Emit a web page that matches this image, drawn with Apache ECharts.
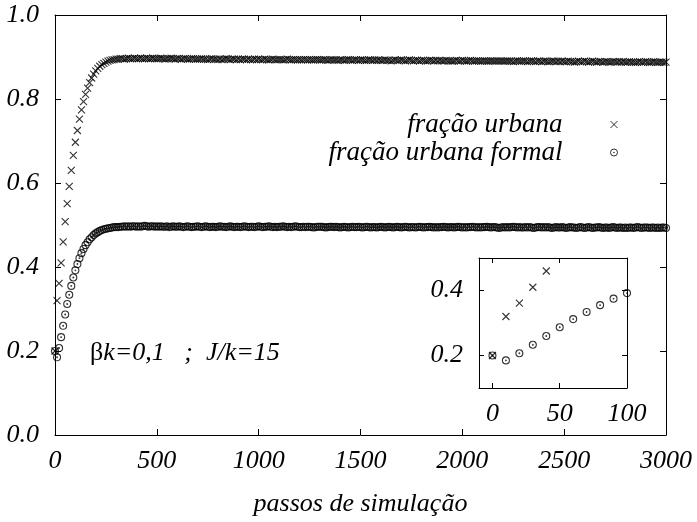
<!DOCTYPE html>
<html>
<head>
<meta charset="utf-8">
<script src="https://cdn.jsdelivr.net/npm/echarts@6/dist/echarts.min.js"></script>
<style>
  html, body { margin: 0; padding: 0; background: #fff; }
  #chart { width: 697px; height: 522px; }
</style>
</head>
<body>
<div id="chart"></div>
<script>
// Simulation output, sampled every 10 steps from step 0 to 3000.
const STEP = 10;

// Urban fraction: initial rise (steps 0..300)
const urbanRise = [
  0.200, 0.320, 0.361, 0.410, 0.460, 0.508, 0.551, 0.592, 0.630, 0.666,
  0.697, 0.725, 0.752, 0.774, 0.794, 0.811, 0.826, 0.839, 0.850, 0.859,
  0.867, 0.873, 0.878, 0.882, 0.885, 0.888, 0.890, 0.892, 0.893, 0.894,
  0.895
];
// Urban fraction: plateau (steps 310..3000)
const urbanPlateau = [
  0.895,0.896,0.896,0.895,0.896,0.897,0.896,0.896,0.897,0.896,
  0.896,0.897,0.896,0.896,0.897,0.896,0.896,0.897,0.896,0.896,
  0.896,0.897,0.896,0.895,0.896,0.896,0.897,0.896,0.895,0.896,
  0.896,0.895,0.896,0.896,0.895,0.895,0.896,0.896,0.895,0.895,
  0.895,0.896,0.895,0.895,0.894,0.895,0.896,0.895,0.895,0.894,
  0.895,0.894,0.895,0.896,0.895,0.894,0.895,0.895,0.894,0.895,
  0.894,0.895,0.895,0.894,0.895,0.894,0.894,0.895,0.894,0.895,
  0.894,0.894,0.895,0.894,0.893,0.894,0.895,0.894,0.894,0.894,
  0.894,0.893,0.894,0.895,0.894,0.893,0.894,0.894,0.893,0.894,
  0.893,0.894,0.894,0.893,0.894,0.893,0.893,0.894,0.894,0.893,
  0.893,0.894,0.893,0.892,0.893,0.894,0.893,0.893,0.892,0.893,
  0.893,0.892,0.893,0.894,0.893,0.892,0.893,0.893,0.892,0.893,
  0.893,0.892,0.892,0.893,0.893,0.892,0.893,0.892,0.893,0.892,
  0.892,0.893,0.892,0.892,0.891,0.892,0.893,0.892,0.892,0.893,
  0.892,0.891,0.892,0.893,0.892,0.891,0.892,0.892,0.891,0.892,
  0.892,0.891,0.891,0.892,0.892,0.891,0.892,0.891,0.892,0.891,
  0.891,0.892,0.891,0.891,0.890,0.891,0.892,0.891,0.891,0.892,
  0.891,0.890,0.891,0.892,0.891,0.890,0.891,0.891,0.890,0.891,
  0.891,0.890,0.890,0.891,0.891,0.890,0.891,0.890,0.891,0.890,
  0.890,0.891,0.890,0.890,0.889,0.890,0.891,0.890,0.890,0.891,
  0.890,0.889,0.890,0.891,0.890,0.889,0.890,0.890,0.889,0.890,
  0.890,0.889,0.889,0.890,0.890,0.889,0.890,0.889,0.890,0.889,
  0.889,0.890,0.889,0.889,0.888,0.889,0.890,0.889,0.889,0.890,
  0.889,0.888,0.889,0.890,0.889,0.888,0.889,0.889,0.888,0.889,
  0.889,0.888,0.888,0.889,0.889,0.888,0.889,0.888,0.889,0.888,
  0.888,0.889,0.888,0.888,0.887,0.888,0.889,0.888,0.888,0.889,
  0.888,0.887,0.888,0.889,0.888,0.887,0.888,0.888,0.887,0.888
];

// Formal urban fraction: initial rise (steps 0..300)
const formalRise = [
  0.200, 0.185, 0.207, 0.233, 0.260, 0.287, 0.312, 0.334, 0.355, 0.375,
  0.392, 0.407, 0.421, 0.433, 0.443, 0.452, 0.459, 0.466, 0.471, 0.476,
  0.480, 0.483, 0.486, 0.488, 0.490, 0.491, 0.492, 0.493, 0.494, 0.495,
  0.495
];
// Formal urban fraction: plateau (steps 310..3000)
const formalPlateau = [
  0.495,0.496,0.496,0.497,0.496,0.497,0.496,0.497,0.497,0.496,
  0.497,0.496,0.497,0.498,0.497,0.496,0.497,0.497,0.496,0.497,
  0.496,0.497,0.496,0.496,0.497,0.495,0.496,0.497,0.496,0.496,
  0.497,0.496,0.495,0.496,0.497,0.496,0.495,0.496,0.496,0.497,
  0.496,0.495,0.496,0.497,0.496,0.495,0.496,0.496,0.495,0.496,
  0.497,0.496,0.496,0.495,0.496,0.497,0.496,0.495,0.496,0.496,
  0.495,0.496,0.497,0.496,0.495,0.496,0.496,0.495,0.496,0.497,
  0.496,0.495,0.496,0.496,0.497,0.496,0.495,0.496,0.495,0.496,
  0.496,0.497,0.496,0.495,0.496,0.495,0.496,0.497,0.496,0.495,
  0.495,0.496,0.495,0.496,0.496,0.495,0.494,0.495,0.496,0.496,
  0.496,0.495,0.494,0.495,0.496,0.496,0.495,0.496,0.495,0.494,
  0.495,0.496,0.495,0.494,0.495,0.496,0.495,0.495,0.496,0.495,
  0.494,0.495,0.496,0.495,0.494,0.495,0.495,0.494,0.495,0.496,
  0.495,0.494,0.495,0.496,0.495,0.494,0.495,0.496,0.495,0.494,
  0.495,0.496,0.495,0.494,0.495,0.495,0.494,0.495,0.496,0.495,
  0.494,0.495,0.495,0.496,0.495,0.494,0.495,0.494,0.495,0.495,
  0.496,0.495,0.494,0.495,0.495,0.494,0.495,0.496,0.495,0.494,
  0.495,0.494,0.495,0.495,0.496,0.495,0.494,0.495,0.494,0.495,
  0.495,0.496,0.495,0.494,0.495,0.495,0.494,0.493,0.494,0.495,
  0.494,0.495,0.494,0.495,0.496,0.495,0.494,0.495,0.494,0.494,
  0.495,0.494,0.495,0.494,0.493,0.494,0.495,0.495,0.494,0.495,
  0.494,0.495,0.494,0.493,0.494,0.495,0.494,0.494,0.495,0.494,
  0.493,0.494,0.495,0.494,0.494,0.493,0.494,0.495,0.494,0.493,
  0.494,0.495,0.494,0.493,0.494,0.494,0.495,0.494,0.493,0.494,
  0.494,0.493,0.494,0.495,0.494,0.493,0.494,0.494,0.493,0.494,
  0.493,0.494,0.494,0.493,0.494,0.495,0.494,0.493,0.494,0.494,
  0.494,0.493,0.494,0.494,0.493,0.494,0.493,0.494,0.494,0.493
];

const seriesNames = ['fração urbana', 'fração urbana formal'];
const xTicksMain = [0, 3000, 500];      // min, max, interval
const yTicksMain = [0, 1, 0.2];
const xTicksInset = [0, 50, 100];
const yTicksInset = [0.2, 0.4];
const insetLastStep = 100;

const urban = urbanRise.concat(urbanPlateau);
const formal = formalRise.concat(formalPlateau);
const toPoints = arr => arr.map((v, i) => [i * STEP, v]);
const urbanPts = toPoints(urban);
const formalPts = toPoints(formal);
const urbanInset = urbanPts.filter(p => p[0] <= insetLastStep);
const formalInset = formalPts.filter(p => p[0] <= insetLastStep);

const FONT = '"Liberation Serif", "Times New Roman", serif';
const CROSS = 'path://M0,0L8,8M8,0L0,8';
const DOTCIRCLE = 'path://M8,4A4,4,0,1,1,0,4A4,4,0,1,1,8,4ZM4.45,4A0.45,0.45,0,1,1,3.55,4A0.45,0.45,0,1,1,4.45,4Z';

const markStyle = { color: 'none', borderColor: '#000', borderWidth: 1.1 };
const labelStyle = { fontFamily: FONT, fontStyle: 'italic', fontSize: 26, color: '#000' };
const legendText = { fontFamily: FONT, fontStyle: 'italic', fontSize: 27, color: '#000' };
const lineStyle = { color: '#000', width: 1 };
const plain = v => String(v);

function frameAxis(gridIndex, pos, extra) {
  return Object.assign({
    gridIndex, position: pos, type: 'value',
    axisLine: { show: true, onZero: false, lineStyle },
    splitLine: { show: false },
    axisLabel: { show: false },
    axisTick: { show: true, inside: true, length: 6, lineStyle }
  }, extra);
}

function legendFor(name, top) {
  return {
    data: [name], orient: 'vertical', align: 'right',
    right: 77, top, padding: 0, itemWidth: 7, itemHeight: 7,
    selectedMode: false,
    itemStyle: { color: 'none', borderColor: '#000', borderWidth: 1 },
    textStyle: Object.assign({ padding: [0, 43, 0, 0] }, legendText)
  };
}

const chart = echarts.init(document.getElementById('chart'), null, { renderer: 'canvas' });

chart.setOption({
  animation: false,
  backgroundColor: '#fff',
  grid: [
    { left: 55, top: 15, width: 611, height: 422 },
    { left: 479, top: 258, width: 148, height: 130, show: true, backgroundColor: '#fff', borderWidth: 0, z: 5 }
  ],
  xAxis: [
    frameAxis(0, 'bottom', {
      min: xTicksMain[0], max: xTicksMain[1], interval: xTicksMain[2],
      axisLabel: Object.assign({ show: true, margin: 13, formatter: plain }, labelStyle),
      name: 'passos de simulação', nameLocation: 'middle', nameGap: 56,
      nameTextStyle: labelStyle
    }),
    frameAxis(0, 'top', { min: xTicksMain[0], max: xTicksMain[1], interval: xTicksMain[2] }),
    frameAxis(1, 'bottom', {
      min: -10, max: 100, z: 6,
      axisTick: { show: true, inside: true, length: 5, lineStyle, customValues: xTicksInset },
      axisLabel: Object.assign({ show: true, margin: 13, customValues: xTicksInset, formatter: plain }, labelStyle)
    }),
    frameAxis(1, 'top', {
      min: -10, max: 100, z: 6,
      axisTick: { show: true, inside: true, length: 5, lineStyle, customValues: xTicksInset }
    })
  ],
  yAxis: [
    frameAxis(0, 'left', {
      min: yTicksMain[0], max: yTicksMain[1], interval: yTicksMain[2],
      axisLabel: Object.assign({ show: true, margin: 16, formatter: v => v.toFixed(1) }, labelStyle)
    }),
    frameAxis(0, 'right', { min: yTicksMain[0], max: yTicksMain[1], interval: yTicksMain[2] }),
    frameAxis(1, 'left', {
      min: 0.1, max: 0.5, z: 6,
      axisTick: { show: true, inside: true, length: 5, lineStyle, customValues: yTicksInset },
      axisLabel: Object.assign({ show: true, margin: 16, customValues: yTicksInset, formatter: v => v.toFixed(1) }, labelStyle)
    }),
    frameAxis(1, 'right', {
      min: 0.1, max: 0.5, z: 6,
      axisTick: { show: true, inside: true, length: 5, lineStyle, customValues: yTicksInset }
    })
  ],
  legend: [legendFor(seriesNames[0], 111), legendFor(seriesNames[1], 139)],
  graphic: [
    {
      type: 'text', left: 90, top: 340, z: 10,
      style: {
        text: '{b|β}{i|k=0,1   ;  J/k=15}',
        rich: {
          b: { fontFamily: FONT, fontSize: 26, fill: '#000' },
          i: { fontFamily: FONT, fontStyle: 'italic', fontSize: 26, fill: '#000' }
        }
      }
    }
  ],
  series: [
    {
      name: seriesNames[0], type: 'scatter', xAxisIndex: 0, yAxisIndex: 0,
      symbol: CROSS, symbolSize: 7, itemStyle: markStyle, data: urbanPts, clip: false
    },
    {
      name: seriesNames[1], type: 'scatter', xAxisIndex: 0, yAxisIndex: 0,
      symbol: DOTCIRCLE, symbolSize: 7, itemStyle: markStyle, data: formalPts, clip: false
    },
    {
      name: seriesNames[0], type: 'scatter', xAxisIndex: 2, yAxisIndex: 2, z: 7,
      symbol: CROSS, symbolSize: 7, itemStyle: markStyle, data: urbanInset, clip: true
    },
    {
      name: seriesNames[1], type: 'scatter', xAxisIndex: 2, yAxisIndex: 2, z: 7,
      symbol: DOTCIRCLE, symbolSize: 7, itemStyle: markStyle, data: formalInset, clip: false
    }
  ]
});
</script>
</body>
</html>
